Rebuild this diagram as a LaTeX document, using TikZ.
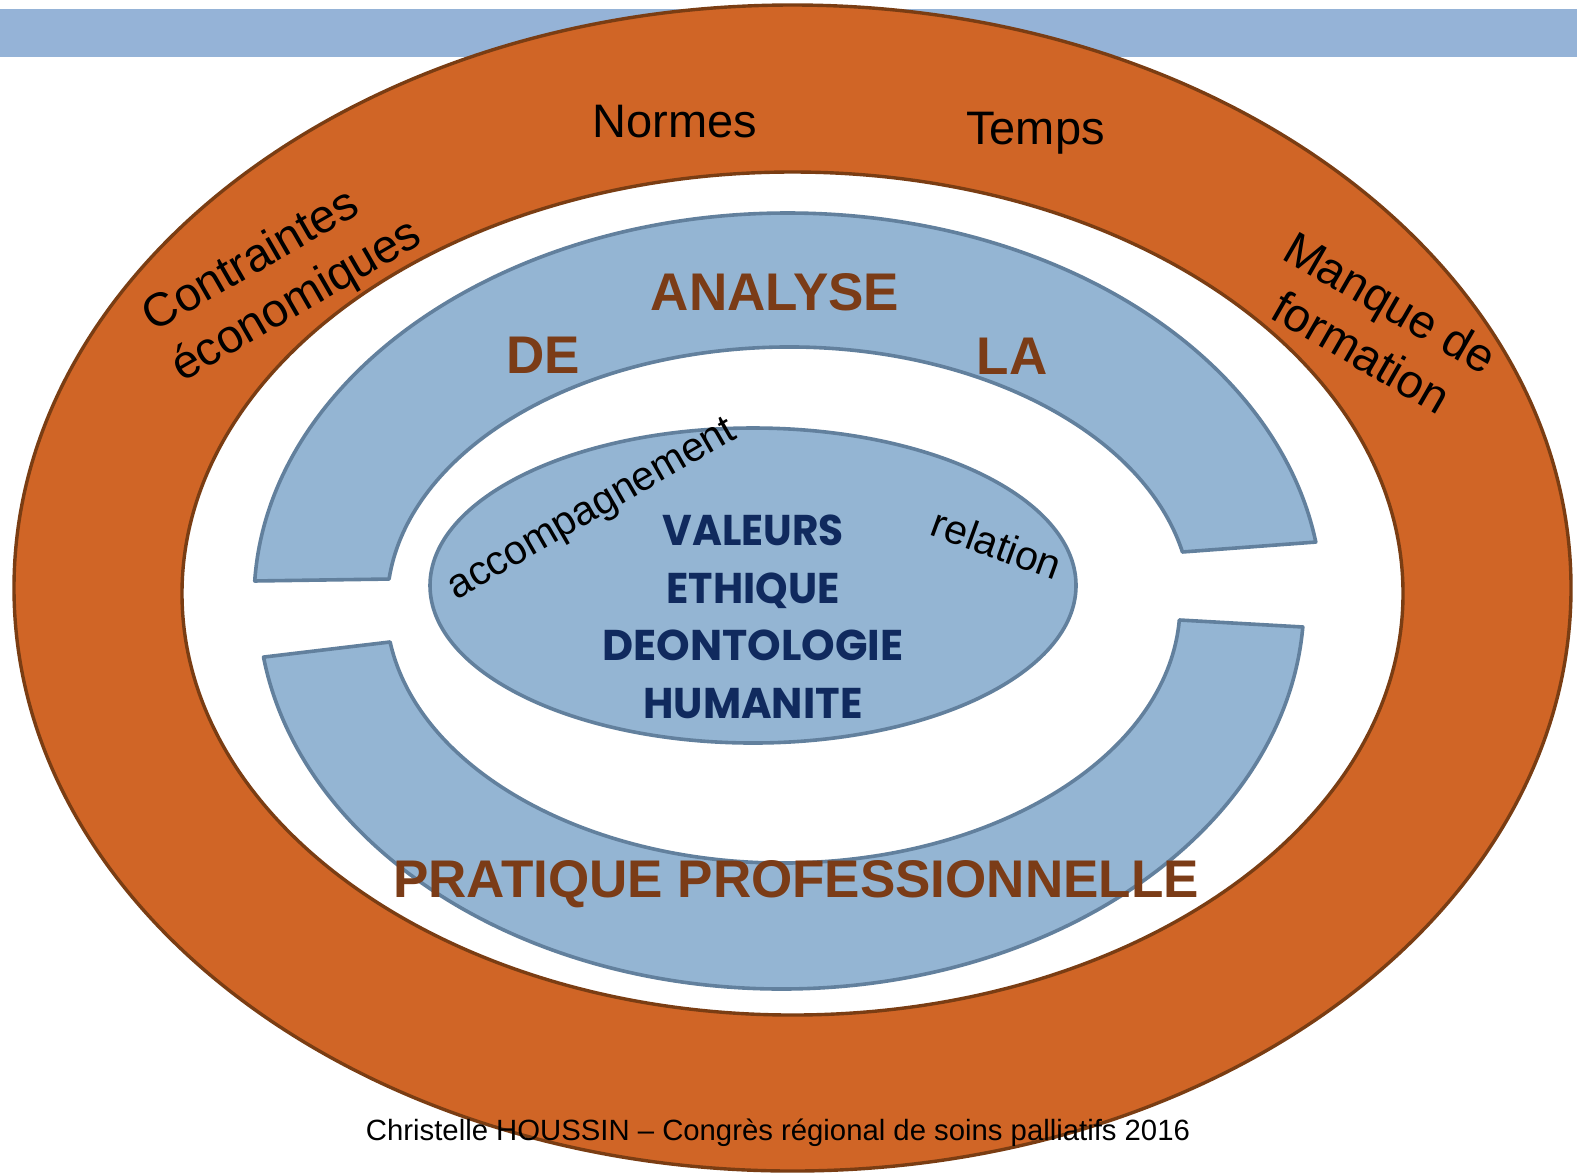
\documentclass[tikz,border=0pt]{standalone}
\usepackage{fontspec}
\setmainfont{Liberation Sans}
\newfontfamily\valfont{Poppins}
\usetikzlibrary{calc}
\definecolor{barblue}{HTML}{95B3D7}
\definecolor{ringblue}{HTML}{94B5D3}
\definecolor{ringline}{HTML}{62809D}
\definecolor{orangefill}{HTML}{D06526}
\definecolor{orangeline}{HTML}{7A3D13}
\definecolor{browntext}{HTML}{7B3C17}
\definecolor{navytext}{HTML}{102A5E}
\begin{document}
\begin{tikzpicture}[x=0.5pt,y=-0.5pt,
  lbl/.style={inner sep=0pt, text=black, font=\fontsize{23.5}{28.5}\selectfont},
  smalllbl/.style={inner sep=0pt, text=black, font=\fontsize{20.5}{24}\selectfont},
  brown/.style={inner sep=0pt, text=browntext, font=\bfseries\fontsize{26.5}{30}\selectfont, anchor=base},
  valeur/.style={inner sep=0pt, text=navytext, font=\valfont\bfseries\fontsize{21.5}{24}\selectfont, anchor=base},
  ringseg/.style={fill=ringblue, draw=ringline, line width=1.8pt, line join=round},
  orangeedge/.style={draw=orangeline, line width=1.7pt}]
\useasboundingbox (0,0) rectangle (1577,1174);
% top bar
\fill[barblue] (0,9) rectangle (1577,57);
% orange ring
\filldraw[orangeedge, fill=orangefill] (792.5,588) ellipse [x radius=778.5, y radius=583];
\filldraw[orangeedge, fill=white] (792.5,593.5) ellipse [x radius=610.5, y radius=421.5];
% blue ring segments
\coordinate (uo) at ($(788,601)+(182.96:534 and 388)$);
\coordinate (ui) at ($(789,605)+(348.14:402 and 258)$);
\coordinate (lo) at ($(781,601)+(3.84:523 and 388)$);
\coordinate (li) at ($(783,605)+(171.76:397 and 258)$);
\filldraw[ringseg] (uo) arc[start angle=182.96, end angle=351.26, x radius=534, y radius=388]
  -- (ui) arc[start angle=348.14, end angle=185.78, x radius=402, y radius=258] -- cycle;
\filldraw[ringseg] (lo) arc[start angle=3.84, end angle=171.69, x radius=523, y radius=388]
  -- (li) arc[start angle=171.76, end angle=3.33, x radius=397, y radius=258] -- cycle;
% central ellipse
\filldraw[ringseg] (753,585.5) ellipse [x radius=323, y radius=157.5];
% outer texts
\node[lbl, anchor=base] (normes) at (675,137) {Normes};
\node[lbl, anchor=base] (temps) at (1035.5,144) {Temps};
\node[lbl, rotate=30, align=left] (contr) at (283,277) {Contraintes\\économiques};
\node[lbl, rotate=-30, align=center] (manque) at (1376,327) {Manque de\\formation};
% ring texts
\node[brown] (analyse) at (775,310) {ANALYSE};
\node[brown] (de) at (543,373) {DE};
\node[brown] (la) at (1012,374) {LA};
\node[brown] (pratique) at (796,897) {PRATIQUE PROFESSIONNELLE};
% central texts
\node[smalllbl, rotate=30] (accomp) at (593,511) {accompagnement};
\node[smalllbl, rotate=-20] (relation) at (997,544) {relation};
\node[valeur] (valeurs) at (753,545) {\resizebox{90.5pt}{\height}{VALEURS}};
\node[valeur] (ethique) at (753,603) {\resizebox{86.5pt}{\height}{ETHIQUE}};
\node[valeur] (deonto) at (753,660) {\resizebox{150.5pt}{\height}{DEONTOLOGIE}};
\node[valeur] (humanite) at (753,718) {\resizebox{109.5pt}{\height}{HUMANITE}};
% footer
\node[inner sep=0pt, anchor=base, font=\fontsize{14.65}{17}\selectfont] (footer) at (778,1140)
  {Christelle HOUSSIN – Congrès régional de soins palliatifs 2016};
\end{tikzpicture}
\end{document}
